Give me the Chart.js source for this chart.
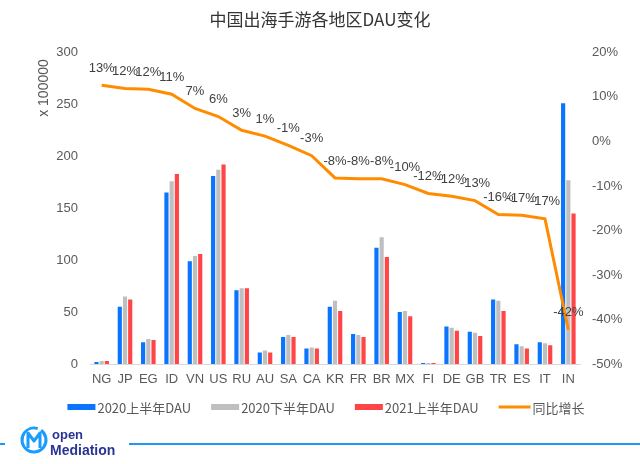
<!DOCTYPE html>
<html>
<head>
<meta charset="utf-8">
<script src="https://cdn.jsdelivr.net/npm/chart.js@4/dist/chart.umd.min.js"></script>
<style>
  html, body { margin: 0; padding: 0; background: #fff; }
  #wrap { width: 640px; height: 464px; position: relative; }
</style>
</head>
<body>
<div id="wrap"><canvas id="dauChart" width="640" height="464"></canvas></div>
<script>
// data
const regions = ['NG', 'JP', 'EG', 'ID', 'VN', 'US', 'RU', 'AU', 'SA', 'CA', 'KR', 'FR', 'BR', 'MX', 'FI', 'DE', 'GB', 'TR', 'ES', 'IT', 'IN'];
const dau2020H1 = [2, 55, 21, 165, 99, 181, 71, 11, 26, 15, 55, 29, 112, 50, 1, 36, 31, 62, 19, 21, 251];
const dau2020H2 = [3, 65, 24, 176, 104, 187, 73, 13, 28, 16, 61, 28, 122, 51, 1, 35, 30, 61, 17, 20, 177];
const dau2021H1 = [3, 62, 23, 183, 106, 192, 73, 11, 26, 15, 51, 26, 103, 46, 1, 32, 27, 51, 15, 18, 145];
const growthPct = [12.6, 11.9, 11.7, 10.6, 7.4, 5.6, 2.5, 1.2, -0.9, -3.2, -8.2, -8.4, -8.4, -9.7, -11.7, -12.3, -13.3, -16.4, -16.6, -17.4, -42.3];
const seriesNames = ['2020上半年DAU', '2020下半年DAU', '2021上半年DAU', '同比增长'];
const dauTicks = { min: 0, max: 300, step: 50 };
const pctTicks = { min: -50, max: 20, step: 10 };

const FONT = '"Liberation Sans", "Noto Sans CJK SC", Arial, sans-serif';
const CJK = '"Noto Sans CJK SC", "Liberation Sans", sans-serif';
const TEXT = '#595959';

// labels on the line, axis unit, legend and footer logo
const extras = {
  id: 'extras',
  afterDatasetsDraw(chart) {
    const ctx = chart.ctx;
    const meta = chart.getDatasetMeta(3);
    ctx.save();
    ctx.font = '13px ' + FONT;
    ctx.fillStyle = '#404040';
    ctx.textAlign = 'center';
    ctx.textBaseline = 'middle';
    meta.data.forEach((pt, i) => {
      ctx.fillText(Math.round(growthPct[i]) + '%', pt.x, pt.y - 17);
    });
    ctx.restore();
  },
  afterDraw(chart) {
    const ctx = chart.ctx;
    ctx.save();

    // unit of the left axis
    ctx.translate(44, 88);
    ctx.rotate(-Math.PI / 2);
    ctx.font = '14px ' + FONT;
    ctx.fillStyle = TEXT;
    ctx.textAlign = 'center';
    ctx.textBaseline = 'middle';
    ctx.fillText('x 100000', 0, 0);
    ctx.setTransform(1, 0, 0, 1, 0, 0);

    // legend
    ctx.font = '13px ' + CJK;
    const items = chart.data.datasets.map(ds => {
      const isLine = ds.type === 'line';
      const sw = isLine ? 32 : 28;
      return { ds, isLine, sw, w: sw + 2 + ctx.measureText(ds.label).width };
    });
    const gap = 20;
    const total = items.reduce((s, it) => s + it.w, 0) + gap * (items.length - 1);
    let x = 326 - total / 2;
    const ly = 407;
    ctx.textBaseline = 'middle';
    ctx.textAlign = 'left';
    items.forEach(it => {
      if (it.isLine) {
        ctx.strokeStyle = it.ds.borderColor;
        ctx.lineWidth = 3;
        ctx.beginPath();
        ctx.moveTo(x, ly);
        ctx.lineTo(x + it.sw, ly);
        ctx.stroke();
      } else {
        ctx.fillStyle = it.ds.backgroundColor;
        ctx.fillRect(x, ly - 3, it.sw, 6);
      }
      ctx.fillStyle = TEXT;
      ctx.fillText(it.ds.label, x + it.sw + 2, ly + 1);
      x += it.w + gap;
    });

    // footer line + logo
    ctx.strokeStyle = '#2196f3';
    ctx.lineWidth = 2;
    ctx.beginPath();
    ctx.moveTo(0, 444); ctx.lineTo(5, 444);
    ctx.moveTo(129, 444); ctx.lineTo(640, 444);
    ctx.stroke();

    ctx.strokeStyle = '#1a9cff';
    ctx.lineWidth = 3;
    ctx.beginPath();
    ctx.arc(34, 440, 12, -Math.PI * 0.3, Math.PI * 1.6);
    ctx.stroke();
    ctx.beginPath();
    ctx.lineJoin = 'round';
    ctx.moveTo(28, 448); ctx.lineTo(28, 433); ctx.lineTo(34, 441);
    ctx.lineTo(40, 433); ctx.lineTo(40, 448);
    ctx.stroke();

    ctx.fillStyle = '#283593';
    ctx.textAlign = 'left';
    ctx.textBaseline = 'alphabetic';
    ctx.font = 'bold 13px ' + FONT;
    ctx.fillText('open', 52, 439);
    ctx.font = 'bold 14px ' + FONT;
    ctx.fillText('Mediation', 50, 455);

    ctx.restore();
  }
};

const ctx = document.getElementById('dauChart').getContext('2d');
const dauChart = new Chart(ctx, {
  type: 'bar',
  data: {
    labels: regions,
    datasets: [
      { label: seriesNames[0], data: dau2020H1, backgroundColor: '#0a74ff', yAxisID: 'y' },
      { label: seriesNames[1], data: dau2020H2, backgroundColor: '#bfbfbf', yAxisID: 'y' },
      { label: seriesNames[2], data: dau2021H1, backgroundColor: '#ff4545', yAxisID: 'y' },
      {
        type: 'line', label: seriesNames[3], data: growthPct, yAxisID: 'y1',
        borderColor: '#ff8c00', backgroundColor: '#ff8c00', borderWidth: 3,
        pointRadius: 0, tension: 0, order: -1
      }
    ]
  },
  options: {
    responsive: false,
    animation: false,
    devicePixelRatio: 1,
    layout: { padding: { left: 0, right: 0, top: 0, bottom: 76 } },
    datasets: { bar: { categoryPercentage: 0.67, barPercentage: 0.8 } },
    plugins: {
      legend: { display: false },
      tooltip: { enabled: false },
      title: {
        display: true,
        text: '中国出海手游各地区DAU变化',
        color: '#333',
        font: { family: CJK, size: 17, weight: 'normal' },
        padding: { top: 9, bottom: 23 }
      }
    },
    scales: {
      x: {
        grid: { display: false, drawTicks: false },
        border: { display: true, color: '#d9d9d9' },
        ticks: { color: TEXT, font: { family: FONT, size: 13 }, padding: 8, autoSkip: false, maxRotation: 0 },
        afterFit(scale) { scale.height = 24; }
      },
      y: {
        position: 'left',
        min: dauTicks.min, max: dauTicks.max,
        grid: { display: false, drawTicks: false },
        border: { display: false },
        ticks: { stepSize: dauTicks.step, color: TEXT, font: { family: FONT, size: 13 }, padding: 12 },
        afterFit(scale) { scale.width = 90; }
      },
      y1: {
        position: 'right',
        min: pctTicks.min, max: pctTicks.max,
        grid: { display: false, drawTicks: false },
        border: { display: false },
        ticks: { stepSize: pctTicks.step, color: TEXT, font: { family: FONT, size: 13 }, padding: 12,
                 callback: v => v + '%' },
        afterFit(scale) { scale.width = 60; }
      }
    }
  },
  plugins: [extras]
});
</script>
</body>
</html>
